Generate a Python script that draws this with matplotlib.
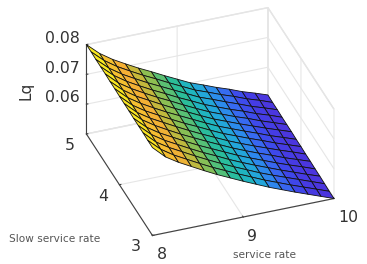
import numpy as np
import matplotlib
matplotlib.use('Agg')
import matplotlib.pyplot as plt
from matplotlib.colors import LinearSegmentedColormap

# service rate / slow service rate grid
service_rate = [8 + i / 7 for i in range(15)]
slow_rate = [3 + i / 7 for i in range(15)]

# Lq, one row per slow service rate
lq = [
    [.0795, .0755, .0728, .0705, .0682, .0660, .0640, .0620, .0601, .0582, .0565, .0548, .0532, .0516, .0500],
    [.0795, .0756, .0728, .0705, .0682, .0660, .0640, .0620, .0601, .0582, .0565, .0548, .0532, .0516, .0500],
    [.0796, .0756, .0729, .0706, .0683, .0661, .0640, .0620, .0601, .0582, .0565, .0549, .0533, .0517, .0501],
    [.0796, .0757, .0729, .0706, .0683, .0661, .0641, .0620, .0601, .0583, .0566, .0549, .0533, .0517, .0502],
    [.0796, .0757, .0729, .0706, .0683, .0661, .0641, .0621, .0601, .0583, .0566, .0549, .0533, .0518, .0502],
    [.0797, .0758, .0730, .0706, .0683, .0662, .0641, .0621, .0601, .0583, .0566, .0550, .0533, .0518, .0503],
    [.0797, .0758, .0730, .0707, .0684, .0662, .0641, .0621, .0601, .0583, .0566, .0550, .0534, .0519, .0503],
    [.0797, .0758, .0730, .0707, .0684, .0662, .0642, .0621, .0601, .0584, .0567, .0551, .0534, .0519, .0504],
    [.0798, .0759, .0731, .0707, .0684, .0663, .0642, .0621, .0601, .0584, .0567, .0551, .0534, .0519, .0504],
    [.0798, .0760, .0731, .0708, .0685, .0663, .0642, .0621, .0601, .0584, .0567, .0551, .0535, .0520, .0505],
    [.0799, .0760, .0732, .0708, .0685, .0664, .0642, .0621, .0601, .0584, .0567, .0552, .0535, .0520, .0505],
    [.0799, .0761, .0732, .0708, .0685, .0664, .0642, .0622, .0601, .0584, .0567, .0552, .0535, .0521, .0505],
    [.0799, .0761, .0732, .0708, .0685, .0664, .0643, .0622, .0601, .0585, .0568, .0552, .0535, .0521, .0506],
    [.0800, .0762, .0733, .0709, .0686, .0665, .0643, .0622, .0601, .0585, .0568, .0553, .0536, .0522, .0506],
    [.0800, .0762, .0733, .0709, .0686, .0665, .0643, .0622, .0601, .0585, .0568, .0553, .0536, .0522, .0507],
]

# parula like colours, picked per strip of the surface
parula = LinearSegmentedColormap.from_list('parula', [
    (0.00, '#4c34dc'), (0.063, '#4a38e0'), (0.123, '#4040e8'), (0.18, '#3a60f0'), (0.233, '#3080f0'),
    (0.287, '#25a0e0'), (0.34, '#20b0d0'), (0.397, '#20b8b0'), (0.457, '#30bf90'), (0.52, '#60c070'),
    (0.587, '#90bf50'), (0.66, '#c8b83a'), (0.737, '#f5b035'), (0.827, '#f5c030'), (0.937, '#f8e820'),
    (1.00, '#f9fb0e')])

X, Y = np.meshgrid(service_rate, slow_rate)
Z = np.array(lq)

fig = plt.figure(figsize=(3.67, 2.64), dpi=100)
ax = fig.add_axes([0.098, 0.026, 0.93, 1.0], projection='3d', proj_type='ortho')
ax.set_box_aspect((1, 1, 0.558), zoom=1.08)
ax.view_init(elev=34, azim=-110)

ax.plot_surface(X, Y, Z, cmap=parula, vmin=0.05, vmax=0.08, rstride=1, cstride=1,
                edgecolor='#111111', linewidth=0.6, antialiased=True, shade=False)

ax.set_xlim(8, 10)
ax.set_ylim(3, 5)
ax.set_zlim(0.05, 0.08)
ax.set_xticks([8, 9, 10])
ax.set_xticklabels(['8', '9', '10'], ha='left')
ax.set_yticks([3, 4, 5])
ax.set_yticklabels(['3', '4', '5'], ha='center', va='center')
ax.set_zticks([0.06, 0.07, 0.08])
ax.set_zticklabels(['0.06', '0.07', '0.08'], va='baseline', ha='right')

for axis in (ax.xaxis, ax.yaxis, ax.zaxis):
    axis.set_pane_color((1, 1, 1, 1))
    axis.pane.set_edgecolor('#e2e2e2')
    axis.line.set_color('#404040')
    axis.line.set_linewidth(0.8)
    axis._axinfo['grid']['color'] = '#e6e6e6'
    axis._axinfo['grid']['linewidth'] = 0.8
    axis._axinfo['tick']['inward_factor'] = 0.0
    axis._axinfo['tick']['outward_factor'] = 0.1
    axis.set_tick_params(labelsize=11.3, labelcolor='#333333', color='#404040', pad=-2)
ax.yaxis.set_tick_params(pad=1)
ax.zaxis.set_tick_params(pad=-5.2)

fig.text(0.72, 0.035, 'service rate', fontsize=7.6, color='#555555', ha='center', va='center')
fig.text(0.148, 0.095, 'Slow service rate', fontsize=7.6, color='#555555', ha='center', va='center')
fig.text(0.071, 0.655, 'Lq', fontsize=11, color='#333333', rotation=90, ha='center', va='center')

fig.savefig('out.png', dpi=100)
